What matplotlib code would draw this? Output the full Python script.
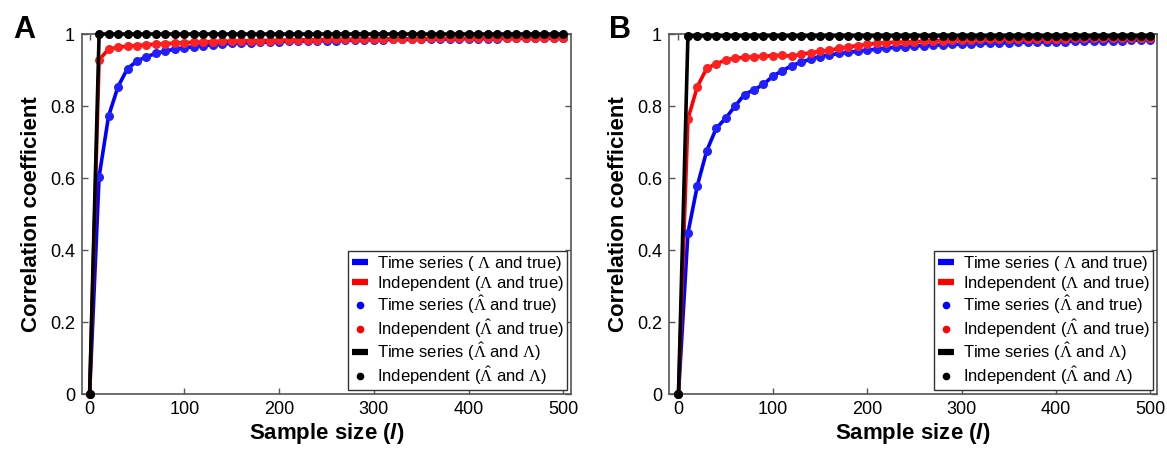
import matplotlib
matplotlib.use("Agg")
import matplotlib.pyplot as plt
from matplotlib.lines import Line2D

plt.rcParams['font.family'] = ['Liberation Sans', 'DejaVu Sans']
plt.rcParams['mathtext.fontset'] = 'custom'
plt.rcParams['mathtext.rm'] = 'Liberation Serif'
plt.rcParams['mathtext.it'] = 'Liberation Sans:italic:bold'
plt.rcParams['mathtext.bf'] = 'Liberation Sans:bold'

sample_size = list(range(0, 501, 10))

# Panel A
a_ts = [0, 0.604, 0.772, 0.854, 0.904, 0.925, 0.937, 0.946, 0.953, 0.958,
        0.962, 0.965, 0.968, 0.970, 0.972, 0.974, 0.975, 0.976, 0.977, 0.978,
        0.979, 0.980, 0.980, 0.981, 0.981, 0.982, 0.982, 0.983, 0.983, 0.984,
        0.984, 0.984, 0.985, 0.985, 0.985, 0.986, 0.986, 0.986, 0.986, 0.987,
        0.987, 0.987, 0.987, 0.987, 0.988, 0.988, 0.988, 0.988, 0.988, 0.988,
        0.988]
a_ind = [0, 0.928, 0.958, 0.963, 0.966, 0.968, 0.970, 0.972, 0.973, 0.975,
         0.976, 0.977, 0.978, 0.979, 0.980, 0.980, 0.981, 0.981, 0.982, 0.982,
         0.983, 0.983, 0.984, 0.984, 0.984, 0.985, 0.985, 0.985, 0.986, 0.986,
         0.986, 0.986, 0.987, 0.987, 0.987, 0.987, 0.988, 0.988, 0.988, 0.988,
         0.988, 0.989, 0.989, 0.989, 0.989, 0.989, 0.989, 0.990, 0.990, 0.990,
         0.990]
a_hat = [0] + [1.0] * 50

# Panel B
b_ts = [0, 0.447, 0.579, 0.676, 0.738, 0.766, 0.800, 0.832, 0.845, 0.860,
        0.883, 0.898, 0.912, 0.922, 0.930, 0.937, 0.942, 0.946, 0.949, 0.952,
        0.955, 0.958, 0.961, 0.963, 0.965, 0.967, 0.968, 0.969, 0.970, 0.971,
        0.972, 0.973, 0.974, 0.975, 0.975, 0.976, 0.977, 0.977, 0.978, 0.978,
        0.979, 0.979, 0.980, 0.980, 0.981, 0.981, 0.982, 0.982, 0.983, 0.983,
        0.984]
b_ind = [0, 0.764, 0.854, 0.905, 0.917, 0.928, 0.933, 0.935, 0.937, 0.938,
         0.940, 0.941, 0.938, 0.944, 0.948, 0.952, 0.955, 0.960, 0.964, 0.968,
         0.971, 0.974, 0.976, 0.977, 0.978, 0.979, 0.980, 0.981, 0.982, 0.983,
         0.984, 0.984, 0.985, 0.985, 0.985, 0.986, 0.986, 0.986, 0.987, 0.987,
         0.987, 0.987, 0.988, 0.988, 0.988, 0.988, 0.988, 0.989, 0.989, 0.989,
         0.989]
b_hat = [0] + [0.995] * 50

xticks = [0, 100, 200, 300, 400, 500]
yticks = [0, 0.2, 0.4, 0.6, 0.8, 1.0]
ytick_labels = ['0', '0.2', '0.4', '0.6', '0.8', '1']

legend_labels = [
    r'Time series ( $\Lambda$ and true)',
    r'Independent ($\Lambda$ and true)',
    r'Time series ($\hat{\Lambda}$ and true)',
    r'Independent ($\hat{\Lambda}$ and true)',
    r'Time series ($\hat{\Lambda}$ and $\Lambda$)',
    r'Independent ($\hat{\Lambda}$ and $\Lambda$)',
]

fig = plt.figure(figsize=(11.67, 4.5), dpi=100)
axA = fig.add_axes([0.0703, 0.1244, 0.4190, 0.8000])
axB = fig.add_axes([0.5733, 0.1244, 0.4181, 0.8000])

spine_col = '#555555'

def draw(ax, ts, ind, hat, xlim):
    lw = 2.6
    ms = 6.5
    ax.plot(sample_size, ts, color='#0000ff', lw=lw, zorder=2, clip_on=False)
    ax.plot(sample_size, ind, color='#ff0000', lw=lw, zorder=2, clip_on=False)
    ax.plot(sample_size, ts, 'o', color='#2020ff', ms=ms, mew=0, zorder=3, clip_on=False)
    ax.plot(sample_size, ind, 'o', color='#ff2020', ms=ms, mew=0, zorder=3, clip_on=False)
    ax.plot(sample_size, hat, color='black', lw=lw, zorder=4, clip_on=False)
    ax.plot(sample_size, hat, 'o', color='black', ms=ms, mew=0, zorder=5, clip_on=False)
    ax.set_xlim(*xlim)
    ax.set_ylim(0, 1)
    ax.set_xticks(xticks)
    ax.set_yticks(yticks)
    ax.set_yticklabels(ytick_labels)
    ax.tick_params(direction='in', top=True, right=True, length=4, width=1,
                   color=spine_col, labelsize=13, pad=5)
    for s in ax.spines.values():
        s.set_color(spine_col)
        s.set_linewidth(1.2)
    ax.set_xlabel(r'Sample size ($l$)', fontsize=16, fontweight='bold', labelpad=2)
    ax.set_ylabel('Correlation coefficient', fontsize=16, fontweight='bold', labelpad=6)
    handles = [
        Line2D([], [], color='#0000ff', lw=4.5, solid_capstyle='butt'),
        Line2D([], [], color='#ff0000', lw=4.5, solid_capstyle='butt'),
        Line2D([], [], color='#0000ff', marker='o', ls='none', ms=5.5, mew=0),
        Line2D([], [], color='#ff0000', marker='o', ls='none', ms=5.5, mew=0),
        Line2D([], [], color='black', lw=4.5, solid_capstyle='butt'),
        Line2D([], [], color='black', marker='o', ls='none', ms=5.5, mew=0),
    ]
    leg = ax.legend(handles, legend_labels, loc='lower right', fontsize=12,
                    frameon=True, fancybox=False, framealpha=1,
                    edgecolor='#333333', borderpad=0.2, labelspacing=0.05,
                    handlelength=1.0, handletextpad=0.5, borderaxespad=0.25)
    leg.get_frame().set_linewidth(1.0)
    leg.set_zorder(10)

draw(axA, a_ts, a_ind, a_hat, (-8, 508))
draw(axB, b_ts, b_ind, b_hat, (-10, 507))

fig.text(0.011, 0.915, 'A', fontsize=22, fontweight='bold')
fig.text(0.522, 0.915, 'B', fontsize=22, fontweight='bold')

fig.savefig('out.png', dpi=100)
